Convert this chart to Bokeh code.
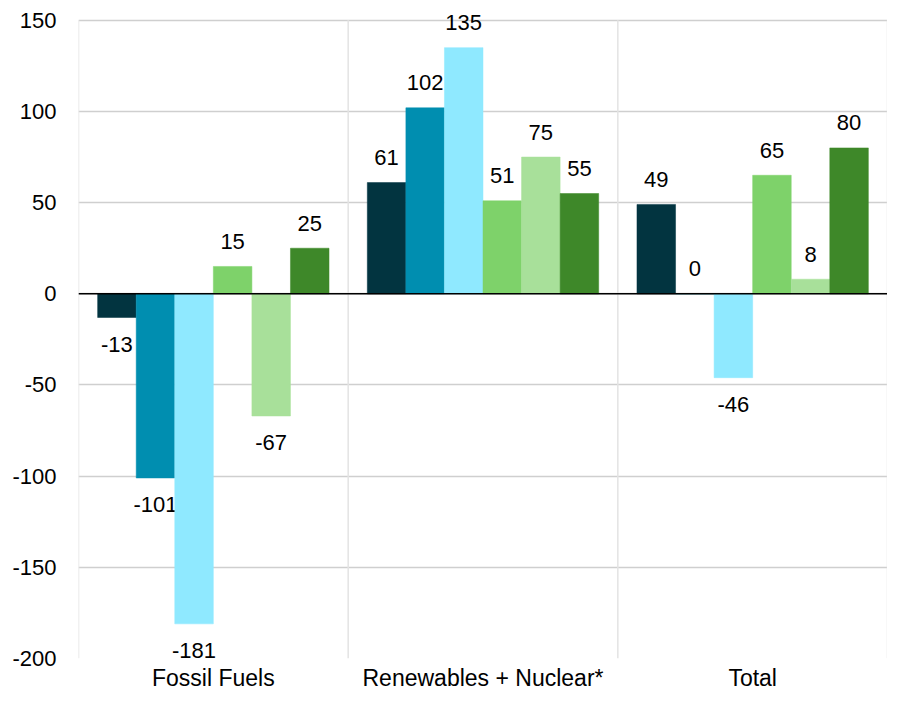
from bokeh.plotting import figure
from bokeh.models import ColumnDataSource, Range1d, Span, FactorRange, PrintfTickFormatter
from bokeh.transform import dodge
from bokeh.core.properties import value
from bokeh.embed import file_html
from bokeh.resources import INLINE

categories = ["Fossil Fuels", "Renewables + Nuclear*", "Total"]
s1 = [-13, 61, 49]
s2 = [-101, 102, 0]
s3 = [-181, 135, -46]
s4 = [15, 51, 65]
s5 = [-67, 75, 8]
s6 = [25, 55, 80]
series = [s1, s2, s3, s4, s5, s6]
colors = ["#023440", "#008EB0", "#8FE9FF", "#7ED26A", "#A8E09A", "#3E8829"]
y_ticks = [-200, -150, -100, -50, 0, 50, 100, 150]
y_min, y_max = -200, 150

FONT = "Liberation Sans"

# a little headroom above 150 so the top data label is not clipped
p = figure(x_range=FactorRange(*categories), y_range=Range1d(y_min, y_max + 9.75),
           width=887, height=693, output_backend="svg", toolbar_location=None,
           min_border_left=78, min_border_right=0, min_border_top=2, min_border_bottom=20)
p.outline_line_color = None
p.background_fill_color = "white"

# category separators (drawn only over the axis span)
sep = ColumnDataSource(dict(cat=categories, y0=[y_min] * 3, y1=[y_max] * 3))
p.segment(x0=dodge("cat", -0.5, range=p.x_range), x1=dodge("cat", -0.5, range=p.x_range),
          y0="y0", y1="y1", source=sep, line_color="#e3e3e3", line_width=1.5)
p.segment(x0=dodge("cat", 0.5, range=p.x_range), x1=dodge("cat", 0.5, range=p.x_range),
          y0="y0", y1="y1", source=ColumnDataSource(dict(cat=categories[-1:], y0=[y_min], y1=[y_max])),
          line_color="#e3e3e3", line_width=1.5)

bw = 0.143
offsets = [(-2.5 + i) * bw for i in range(6)]

for vals, col, off in zip(series, colors, offsets):
    src = ColumnDataSource(dict(
        cat=categories, v=vals,
        lab=[str(v) for v in vals],
        yo=[-25 if v >= 0 else 27 for v in vals],
    ))
    p.vbar(x=dodge("cat", off, range=p.x_range), top="v", bottom=0, width=bw,
           source=src, fill_color=col, line_color=col, line_width=0.5)
    p.text(x=dodge("cat", off, range=p.x_range), y="v", text="lab", source=src,
           y_offset="yo", text_align="center", text_baseline="middle",
           text_font=value(FONT), text_font_size="22px", text_color="black")

# zero line
p.add_layout(Span(location=0, dimension="width", line_color="black", line_width=1.5))

p.xgrid.grid_line_color = None
p.ygrid.grid_line_color = "#cfcfcf"
p.ygrid.grid_line_width = 1.5
p.ygrid.ticker = y_ticks
p.yaxis.ticker = y_ticks
p.yaxis.formatter = PrintfTickFormatter(format="%d")

for ax in [p.xaxis[0], p.yaxis[0]]:
    ax.axis_line_color = None
    ax.major_tick_line_color = None
    ax.minor_tick_line_color = None
    ax.major_label_text_font = FONT
    ax.major_label_text_color = "black"

p.yaxis.major_label_text_font_size = "22px"
p.yaxis.major_label_standoff = 16
p.xaxis.major_label_text_font_size = "23px"
p.xaxis.major_label_standoff = 0

open("out.html", "w").write(file_html(p, INLINE))
